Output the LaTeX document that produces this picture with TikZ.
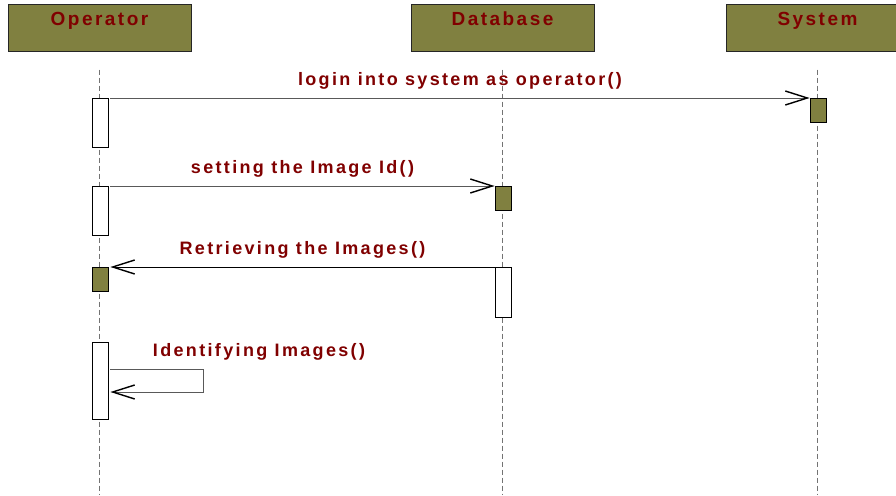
\documentclass[tikz,border=0pt]{standalone}
\usepackage{fontspec}
\newfontfamily\umlfont[LetterSpace=13]{Liberation Sans}
\usetikzlibrary{arrows.meta,positioning}

\definecolor{olivebox}{RGB}{128,128,64}
\definecolor{labelred}{RGB}{128,0,0}

\tikzset{
  headbox/.style={draw=black!85,line width=1pt,fill=olivebox,minimum width=183pt,minimum height=47pt,inner sep=0pt},
  headtext/.style={text=labelred,font=\umlfont\bfseries\fontsize{19}{22}\selectfont,inner sep=0pt},
  life/.style={draw=black!55,line width=0.9pt,dash pattern=on 5pt off 3pt},
  act/.style={draw=black,line width=0.8pt,fill=white,minimum width=16pt,inner sep=0pt,anchor=north},
  actfull/.style={act,fill=olivebox},
  msg/.style={draw=black!65,line width=1pt,-{Straight Barb[length=22pt,width=14pt,line width=1.4pt,black]}},
  msglabel/.style={text=labelred,font=\umlfont\bfseries\fontsize{18}{21}\selectfont,above=5pt}
}

\begin{document}
\begin{tikzpicture}[x=1pt,y=-1pt]
\useasboundingbox (0,0) rectangle (896,495);
\coordinate (bot) at (0,495);

\foreach \nm/\x/\txt in {op/99.5/Operator,db/502.5/Database,sys/817.5/System}{
  \node[headbox] (\nm) at (\x,28.5) {};
  \node[headtext,anchor=base] (\nm txt) at ([yshift=-21pt]\nm.north) {\txt};
  \draw[life] ([yshift=-17pt]\nm.south) -- (\nm.south |- bot);
}

% activations
\node[act,minimum height=49] (op1) at (100,98) {};
\node[actfull,minimum height=24] (sys1) at (818,98) {};
\node[act,minimum height=49] (op2) at (100,186) {};
\node[actfull,minimum height=24] (db1) at (503,186) {};
\node[actfull,minimum height=24] (op3) at (100,267) {};
\node[act,minimum height=50] (db2) at (503,267) {};
\node[act,minimum height=77] (op4) at (100,342) {};

% messages
\draw[msg] ([xshift=2pt]op1.north east) -- node[msglabel] (m1) {login into system as operator()} (sys1.north west);
\draw[msg] ([xshift=2pt]op2.north east) -- node[msglabel] (m2) {setting the Image Id()} (db1.north west);
\draw[msg,draw=black] (db2.north west) -- node[msglabel] (m3) {Retrieving the Images()} ([xshift=2pt]op3.north east);
\draw[msg] ([shift={(2,27)}]op4.north east) -- ++(93,0) -- ++(0,23) -- ([shift={(2,50)}]op4.north east);
\node[msglabel,above=0pt,anchor=base west] (m4) at ([shift={(41,14)}]op4.north east) {Identifying Images()};
\end{tikzpicture}
\end{document}
